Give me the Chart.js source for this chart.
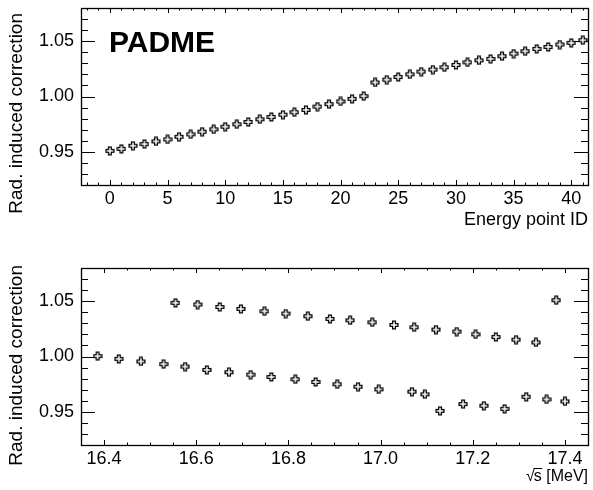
<!DOCTYPE html>
<html>
<head>
<meta charset="utf-8">
<script src="https://cdn.jsdelivr.net/npm/chart.js@4/dist/chart.umd.min.js"></script>
<style>
  html, body { margin: 0; padding: 0; background: #fff; }
  canvas { position: absolute; left: 0; }
  #topPanel { top: 0; }
  #bottomPanel { top: 245px; }
</style>
</head>
<body>
<canvas id="topPanel" width="593" height="245"></canvas>
<canvas id="bottomPanel" width="593" height="245"></canvas>
<script>
// Energy point identifiers
const energyPointId = [
  0, 1, 2, 3, 4, 5, 6, 7, 8, 9,
  10, 11, 12, 13, 14, 15, 16, 17, 18, 19,
  20, 21, 22, 23, 24, 25, 26, 27, 28, 29,
  30, 31, 32, 33, 34, 35, 36, 37, 38, 39,
  40, 41
];

// Radiation induced correction per energy point
const radCorrection = [
  0.9509, 0.9527, 0.9555, 0.9570, 0.9594, 0.9612, 0.9636, 0.9658, 0.9682, 0.9703,
  0.9727, 0.9749, 0.9770, 0.9794, 0.9815, 0.9836, 0.9858, 0.9879, 0.9909, 0.9931,
  0.9955, 0.9979, 1.0003, 1.0127, 1.0152, 1.0176, 1.0200, 1.0225, 1.0243, 1.0264,
  1.0285, 1.0309, 1.0327, 1.0340, 1.0364, 1.0388, 1.0409, 1.0430, 1.0448, 1.0470,
  1.0485, 1.0509
];

// Centre-of-mass energy sqrt(s) per energy point [MeV]
const sqrtS = [
  17.129, 17.269, 17.224, 17.179, 17.400, 17.360, 17.316, 17.096, 17.068, 16.996,
  16.951, 16.906, 16.859, 16.815, 16.763, 16.718, 16.671, 16.623, 16.576, 16.529,
  16.480, 16.432, 16.386, 17.337, 17.294, 17.250, 17.206, 17.165, 17.120, 17.073,
  17.029, 16.982, 16.934, 16.890, 16.842, 16.794, 16.748, 16.697, 16.651, 16.603,
  16.555, 17.381
];

// Axis tick labels
const correctionTicks = [0.95, 1.00, 1.05];
const idTicks = [0, 5, 10, 15, 20, 25, 30, 35, 40];
const sqrtSTicks = [16.4, 16.6, 16.8, 17.0, 17.2, 17.4];

const FONT = '"Liberation Sans", Arial, Helvetica, sans-serif';

// Open-cross marker
function openCross() {
  const c = document.createElement('canvas');
  c.width = 10; c.height = 10;
  const g = c.getContext('2d');
  const m = 5, a = 1.4, l = 3.9;
  g.beginPath();
  g.moveTo(m - a, m - l); g.lineTo(m + a, m - l); g.lineTo(m + a, m - a);
  g.lineTo(m + l, m - a); g.lineTo(m + l, m + a); g.lineTo(m + a, m + a);
  g.lineTo(m + a, m + l); g.lineTo(m - a, m + l); g.lineTo(m - a, m + a);
  g.lineTo(m - l, m + a); g.lineTo(m - l, m - a); g.lineTo(m - a, m - a);
  g.closePath();
  g.fillStyle = '#fff'; g.fill();
  g.lineWidth = 1.3; g.strokeStyle = '#000'; g.stroke();
  return c;
}
const marker = openCross();

// Frame with inward ticks on all four sides plus titles
function framePlugin(cfg) {
  return {
    id: 'frame',
    beforeDatasetsDraw(chart) {
      const { ctx, chartArea: a, scales } = chart;
      const xs = scales.x, ys = scales.y;
      ctx.save();
      ctx.strokeStyle = '#000';
      ctx.lineWidth = 1;
      ctx.beginPath();
      // y ticks (left and right)
      for (let k = cfg.yMinor[0]; k <= cfg.yMinor[1]; k++) {
        const v = k / cfg.yMinor[2];
        const py = Math.round(ys.getPixelForValue(v)) + 0.5;
        const len = (k % cfg.yMinor[3] === 0) ? 14 : 7;
        ctx.moveTo(a.left, py); ctx.lineTo(a.left + len, py);
        ctx.moveTo(a.right, py); ctx.lineTo(a.right - len, py);
      }
      // x ticks (bottom and top)
      for (let k = cfg.xMinor[0]; k <= cfg.xMinor[1]; k++) {
        const v = k / cfg.xMinor[2];
        const px = Math.round(xs.getPixelForValue(v)) + 0.5;
        if (px < a.left || px > a.right) continue;
        const len = (k % cfg.xMinor[3] === 0) ? 5 : 2.5;
        ctx.moveTo(px, a.bottom); ctx.lineTo(px, a.bottom - len);
        ctx.moveTo(px, a.top); ctx.lineTo(px, a.top + len);
      }
      ctx.stroke();
      ctx.lineWidth = 1.3;
      ctx.strokeRect(Math.round(a.left) + 0.5, Math.round(a.top) + 0.5,
                     Math.round(a.right - a.left), Math.round(a.bottom - a.top));

      // y axis title
      ctx.fillStyle = '#000';
      ctx.save();
      ctx.translate(17, a.top + cfg.yTitleOffset);
      ctx.rotate(-Math.PI / 2);
      ctx.font = '19px ' + FONT;
      ctx.textAlign = 'right';
      ctx.textBaseline = 'middle';
      ctx.fillText('Rad. induced correction', 0, 0);
      ctx.restore();

      if (cfg.drawTitle) cfg.drawTitle(ctx, a);
      ctx.restore();
    }
  };
}

function makeChart(canvasId, xData, xMin, xMax, xTicks, xFmt, padTop, xHeight, cfg) {
  const points = xData.map((x, i) => ({ x: x, y: radCorrection[i] }));
  return new Chart(document.getElementById(canvasId), {
    type: 'scatter',
    data: {
      datasets: [{
        data: points,
        pointStyle: marker,
        showLine: false
      }]
    },
    options: {
      responsive: false,
      animation: false,
      devicePixelRatio: 1,
      layout: { padding: { top: padTop, right: 2, left: 0, bottom: 0 } },
      plugins: { legend: { display: false }, tooltip: { enabled: false } },
      scales: {
        x: {
          type: 'linear', min: xMin, max: xMax,
          grid: { display: false, drawTicks: false },
          border: { display: false },
          afterBuildTicks: s => { s.ticks = xTicks.map(v => ({ value: v })); },
          afterFit: s => { s.height = xHeight; s.paddingLeft = 0; s.paddingRight = 0; },
          ticks: {
            font: { size: 18, family: FONT }, color: '#000', padding: 3,
            maxRotation: 0, autoSkip: false, callback: xFmt
          }
        },
        y: {
          type: 'linear', min: 0.92, max: 1.08,
          grid: { display: false, drawTicks: false },
          border: { display: false },
          afterBuildTicks: s => { s.ticks = correctionTicks.map(v => ({ value: v })); },
          afterFit: s => { s.width = 81; s.paddingTop = 0; s.paddingBottom = 0; },
          ticks: {
            font: { size: 18, family: FONT }, color: '#000', padding: 7,
            autoSkip: false, callback: v => Number(v).toFixed(2)
          }
        }
      }
    },
    plugins: [framePlugin(cfg)]
  });
}

// Upper panel: correction versus energy point ID
makeChart('topPanel', energyPointId, -2.5, 41.45, idTicks, v => String(v), 8, 60, {
  yMinor: [92, 108, 100, 5],
  xMinor: [-2, 41, 1, 5],
  yTitleOffset: 5,
  drawTitle(ctx, a) {
    ctx.font = 'bold 30px ' + FONT;
    ctx.textAlign = 'left';
    ctx.textBaseline = 'alphabetic';
    ctx.fillText('PADME', 109, 52);
    ctx.font = '18px ' + FONT;
    ctx.textAlign = 'right';
    ctx.fillText('Energy point ID', 588, 225);
  }
});

// Lower panel: correction versus sqrt(s)
makeChart('bottomPanel', sqrtS, 16.35, 17.45, sqrtSTicks, v => Number(v).toFixed(1), 23, 45, {
  yMinor: [92, 108, 100, 5],
  xMinor: [327, 349, 20, 4],
  yTitleOffset: -3,
  drawTitle(ctx, a) {
    ctx.font = '16px ' + FONT;
    ctx.textBaseline = 'alphabetic';
    ctx.textAlign = 'right';
    const rest = ' [MeV]';
    const xr = 588, base = 236;
    ctx.fillText(rest, xr, base);
    const wRest = ctx.measureText(rest).width;
    const wS = ctx.measureText('s').width;
    const sx = xr - wRest - wS;
    ctx.textAlign = 'left';
    ctx.fillText('s', sx, base);
    const wRoot = ctx.measureText('\u221A').width;
    ctx.fillText('\u221A', sx - wRoot + 1, base);
    ctx.beginPath();
    ctx.lineWidth = 1;
    ctx.moveTo(sx, base - 12.5);
    ctx.lineTo(sx + wS + 0.5, base - 12.5);
    ctx.stroke();
  }
});
</script>
</body>
</html>
